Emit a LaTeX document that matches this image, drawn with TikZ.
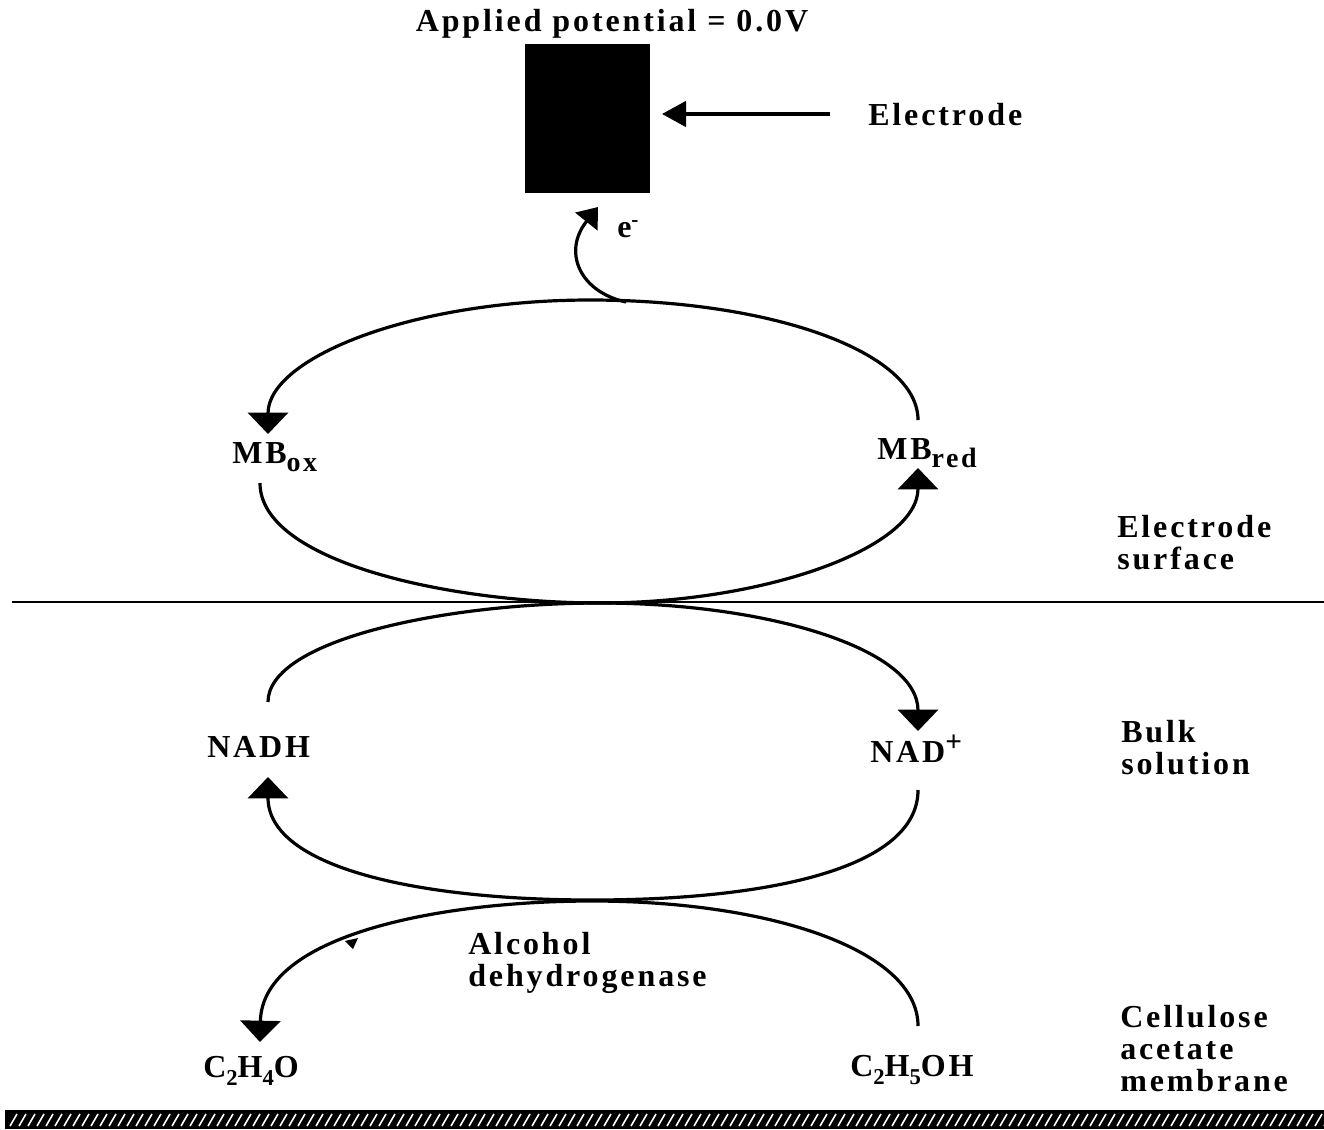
\documentclass[tikz,border=0pt]{standalone}
\usepackage{fontspec}
\setmainfont{Liberation Serif}[LetterSpace=9]
\usetikzlibrary{arrows.meta}
\begin{document}
\begin{tikzpicture}[x=0.75pt,y=-0.75pt,
  lbl/.style={font=\fontsize{24}{24}\selectfont\bfseries, inner sep=0pt},
  side/.style={lbl, align=left, anchor=north west},
  curve/.style={line width=2.4pt},
  bigtip/.style={-{Triangle[width=30pt,length=16pt]}},
  smalltip/.style={-{Triangle[width=21pt,length=14pt]}},
]
\newcommand\chemsub[1]{\raisebox{-6pt}{\fontsize{17}{17}\selectfont #1}}
\newcommand\mbsub[1]{\raisebox{-6pt}{\fontsize{21}{21}\selectfont #1}}
\useasboundingbox (0,0) rectangle (1324,1129);

% electrode and its label
\node[fill=black, inner sep=0pt, minimum width=93.75pt, minimum height=111.75pt]
  (electrode) at (587.5,118.5) {};
\node[lbl, anchor=base] (potential) at (612,31) {Applied potential = 0.0V};
\node[lbl, anchor=base west] (eltext) at (868,125) {Electrode};
\coordinate (elfrom) at (830,114);
\coordinate (elto) at (662,114);
\draw[line width=2.6pt, -{Triangle[width=19pt,length=18pt]}] (elfrom) -- (elto);

% electron transfer to the electrode
\coordinate (etail) at (626,302);
\coordinate (ehead) at (598,207);
\draw[curve, smalltip] (etail) .. controls (580,292) and (562,252) .. (ehead);
\node[lbl, anchor=base west] (eminus) at (617,237) {e\raisebox{8pt}{\fontsize{16}{16}\selectfont -}};

% species labels
\node[lbl, anchor=base west] (mbox) at (232,463) {MB\mbsub{ox}};
\node[lbl, anchor=base west] (mbred) at (877,459) {MB\mbsub{red}};
\node[lbl, anchor=base west] (nadh) at (207,757) {NADH};
\node[lbl, anchor=base west] (nad) at (870,762) {NAD\raisebox{8pt}{\fontsize{22}{22}\selectfont +}};
\node[lbl, anchor=base west] (c2h4o) at (203,1077) {C\chemsub{2}H\chemsub{4}O};
\node[lbl, anchor=base west] (c2h5oh) at (850,1076) {C\chemsub{2}H\chemsub{5}OH};
\node[side] (adh) at (468,932) {Alcohol\\dehydrogenase};

% zone labels
\node[side] (zsurf) at (1117,515) {Electrode\\surface};
\node[side] (zbulk) at (1121,720) {Bulk\\solution};
\node[side] (zmem) at (1120,1005) {Cellulose\\acetate\\membrane};

% electrode surface line
\coordinate (surfL) at (12,602);
\coordinate (surfR) at (1324,602);
\draw[line width=2pt] (surfL) -- (surfR);

% mediator cycle
\coordinate (mbredtop) at (918,420);
\coordinate (mboxtip) at (268,434);
\coordinate (mboxbot) at (260,483);
\coordinate (mbredtip) at (918,468);
\draw[curve, bigtip] (mbredtop) .. controls (918,352) and (772,300) .. (590,300)
  .. controls (412,300) and (268,358) .. (mboxtip);
\draw[curve, bigtip] (mboxbot) .. controls (260,562) and (450,603) .. (600,603)
  .. controls (765,603) and (918,548) .. (mbredtip);

% coenzyme cycle
\coordinate (nadhtop) at (268,702);
\coordinate (nadtip) at (918,731);
\coordinate (nadbot) at (918,790);
\coordinate (nadhtip) at (268,777);
\draw[curve, bigtip] (nadhtop) .. controls (268,640) and (445,603) .. (600,603)
  .. controls (765,603) and (918,648) .. (nadtip);
\draw[curve, bigtip] (nadbot) .. controls (918,868) and (770,900) .. (592,900)
  .. controls (420,900) and (268,868) .. (nadhtip);

% substrate reaction
\coordinate (ethtop) at (918,1026);
\coordinate (acetip) at (260,1042);
\draw[curve, bigtip] (ethtop) .. controls (918,950) and (770,901) .. (592,901)
  .. controls (440,901) and (262,935) .. (acetip);
\fill (345,941) -- (358,938) -- (353,949) -- cycle;

% cellulose acetate membrane
\fill (5,1110) rectangle (1324,1129);
\foreach \k in {0,...,146}{
  \draw[white, line width=1.2pt] ({10+9*\k},1126) -- ({17+9*\k},1114);
}
\end{tikzpicture}
\end{document}
